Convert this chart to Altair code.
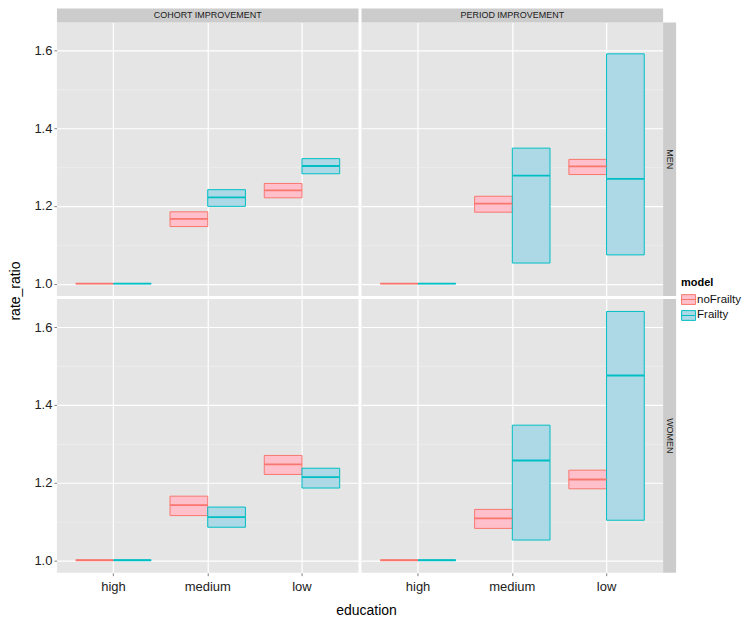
import altair as alt
import pandas as pd

# ---- data ----
scenario = ["COHORT IMPROVEMENT"] * 12 + ["PERIOD IMPROVEMENT"] * 12
gender = (["MEN"] * 6 + ["WOMEN"] * 6) * 2
model = (["noFrailty"] * 3 + ["Frailty"] * 3) * 4
education = ["high", "medium", "low"] * 8

low = [1.000, 1.147, 1.221,  1.000, 1.199, 1.283,
       1.000, 1.115, 1.221,  1.000, 1.085, 1.186,
       1.000, 1.184, 1.281,  1.000, 1.053, 1.074,
       1.000, 1.082, 1.184,  1.000, 1.052, 1.103]
mid = [1.000, 1.167, 1.240,  1.000, 1.222, 1.303,
       1.000, 1.142, 1.247,  1.000, 1.111, 1.214,
       1.000, 1.206, 1.302,  1.000, 1.278, 1.270,
       1.000, 1.108, 1.208,  1.000, 1.257, 1.476]
high = [1.000, 1.185, 1.258,  1.000, 1.242, 1.322,
        1.000, 1.165, 1.270,  1.000, 1.137, 1.237,
        1.000, 1.225, 1.320,  1.000, 1.349, 1.592,
        1.000, 1.131, 1.232,  1.000, 1.348, 1.641]

edu_order = ["high", "medium", "low"]
model_order = ["noFrailty", "Frailty"]
fill_colors = ["#FFC0CB", "#ADD8E6"]
stroke_colors = ["#F8766D", "#00BFC4"]
y_ticks = [1.0, 1.1, 1.2, 1.3, 1.4, 1.5, 1.6]

df = pd.DataFrame(dict(scenario=scenario, gender=gender, model=model,
                       education=education, low=low, mid=mid, high=high))

W, H = 302, 274
STRIP = 13
FONT = "Liberation Sans"
major = "round(datum.value*10) % 2 == 0"

x_enc = alt.X("education:N", sort=edu_order, title=None,
              scale=alt.Scale(paddingInner=0.2, paddingOuter=0.2),
              axis=alt.Axis(labelAngle=0, labelFontSize=13, labelColor="#222222",
                            labelFont=FONT, tickColor="#7F7F7F", tickSize=3,
                            domain=False, grid=True, gridColor="#FFFFFF",
                            gridWidth=1.2, labelPadding=5))
xo_enc = alt.XOffset("model:N", sort=model_order,
                     scale=alt.Scale(paddingInner=0, paddingOuter=0))
y_axis = alt.Axis(values=y_ticks, title=None, domain=False,
                  labelExpr=f"{major} ? format(datum.value, '.1f') : ''",
                  labelFontSize=13, labelColor="#222222", labelFont=FONT,
                  tickSize=3, labelPadding=2,
                  tickColor="#7F7F7F",
                  tickOpacity={"condition": {"test": major, "value": 1}, "value": 0},
                  gridColor={"condition": {"test": major, "value": "#FFFFFF"}, "value": "#F2F2F2"},
                  gridWidth={"condition": {"test": major, "value": 1.2}, "value": 0.6})
y_scale = alt.Scale(domain=[0.968, 1.673], nice=False, zero=False)

sym = "M-1,-0.7H1V0.7H-1Z M-1,0H1"
fill_enc = alt.Fill("model:N", sort=model_order,
                    scale=alt.Scale(domain=model_order, range=fill_colors),
                    legend=alt.Legend(title="model", orient="none", legendX=625, legendY=255,
                                      symbolType=sym, symbolSize=196, symbolStrokeWidth=1,
                                      titleFontSize=11, titleFont=FONT, titleFontWeight="bold",
                                      titlePadding=4,
                                      labelFontSize=11.5, labelFont=FONT, labelColor="#111111",
                                      rowPadding=1, labelOffset=1, padding=0))
stroke_enc = alt.Stroke("model:N", sort=model_order,
                        scale=alt.Scale(domain=model_order, range=stroke_colors))

boxes = alt.Chart().mark_bar(strokeWidth=1, opacity=1).encode(
    x=x_enc, xOffset=xo_enc,
    y=alt.Y("low:Q", scale=y_scale, axis=y_axis), y2="high:Q",
    fill=fill_enc, stroke=stroke_enc)

medians = alt.Chart().mark_bar(strokeWidth=1.8, fillOpacity=0).encode(
    x=x_enc, xOffset=xo_enc,
    y=alt.Y("mid:Q", scale=y_scale, axis=y_axis), y2="mid:Q",
    stroke=stroke_enc)

top_base = alt.Chart().transform_aggregate(
    n="count()", groupby=["scenario", "gender"]).transform_filter(alt.datum.gender == "MEN")
top_rect = top_base.mark_rect(fill="#CCCCCC").encode(
    x=alt.value(0), x2=alt.value(W), y=alt.value(-14), y2=alt.value(0))
top_text = top_base.mark_text(fontSize=9, font=FONT, color="#1A1A1A", baseline="middle").encode(
    x=alt.value(W / 2), y=alt.value(-7), text="scenario:N")

right_base = alt.Chart().transform_aggregate(
    n="count()", groupby=["scenario", "gender"]).transform_filter(
    alt.datum.scenario == "PERIOD IMPROVEMENT")
right_rect = right_base.mark_rect(fill="#CCCCCC").encode(
    x=alt.value(W), x2=alt.value(W + STRIP), y=alt.value(0), y2=alt.value(H))
right_text = right_base.mark_text(fontSize=9, font=FONT, color="#1A1A1A", angle=90,
                                  baseline="middle").encode(
    x=alt.value(W + STRIP / 2), y=alt.value(H / 2), text="gender:N")

layered = alt.layer(boxes, medians, top_rect, top_text, right_rect, right_text).properties(
    width=W, height=H)

chart = layered.facet(
    data=df,
    row=alt.Row("gender:N", sort=["MEN", "WOMEN"], title="rate_ratio",
                header=alt.Header(labels=False, titleFontSize=14, titleFont=FONT,
                                  titleFontWeight="normal", titleColor="#000000",
                                  titlePadding=0)),
    column=alt.Column("scenario:N", sort=["COHORT IMPROVEMENT", "PERIOD IMPROVEMENT"],
                      title="education",
                      header=alt.Header(labels=False, titleOrient="bottom", titleFontSize=14,
                                        titleFont=FONT, titleFontWeight="normal",
                                        titleColor="#000000", titlePadding=0)),
    spacing={"row": 3, "column": 3},
).resolve_scale(x="shared").properties(
    align="each",
    padding={"left": 0, "top": 0, "right": 0, "bottom": 0}
).configure_view(fill="#E5E5E5", strokeWidth=0)

chart.save("out.html", embed_options={"renderer": "svg", "actions": False})
